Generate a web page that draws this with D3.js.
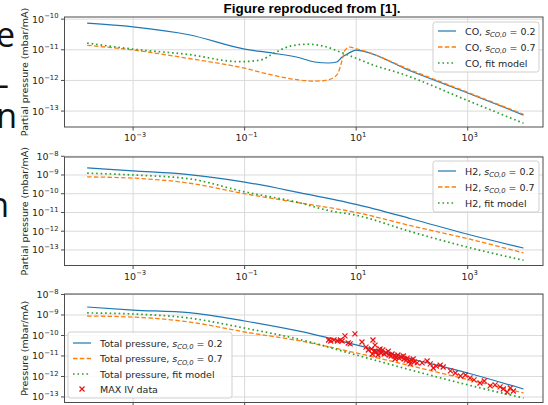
<!DOCTYPE html>
<meta charset="utf-8">
<script src="https://d3js.org/d3.v7.min.js"></script>
<style>
body { margin: 0; background: white; }
svg { display: block; font-family: "DejaVu Sans", sans-serif; }
.grid line { stroke: #dadada; stroke-width: 1; }
.frame { fill: none; stroke: #4d4d4d; stroke-width: 1; }
.tick { stroke: #4d4d4d; stroke-width: 1; }
.ticklabel { fill: #262626; font-size: 9.5px; }
.ylabel { fill: #262626; font-size: 9.5px; }
.legend rect { fill: white; fill-opacity: 0.85; stroke: #cfcfcf; }
.legend text { fill: #262626; font-size: 9.5px; }
.slide { font-family: "Open Sans", sans-serif; font-size: 34px; fill: #111; }
</style>
<body>
<svg id="chart" width="548" height="405"></svg>
<script>
// tick values
const xTicks = [1e-3, 1e-1, 1e1, 1e3];
const yTicksCO = [1e-10, 1e-11, 1e-12, 1e-13];
const yTicksH2 = [1e-8, 1e-9, 1e-10, 1e-11, 1e-12, 1e-13];
const yTicksTot = [1e-8, 1e-9, 1e-10, 1e-11, 1e-12, 1e-13];

// CO partial pressure [time, mbar/mA]
const coS02 = [[1.5e-4, 7.4e-11], [1e-3, 5.6e-11], [1e-2, 3.1e-11], [0.1, 1.05e-11], [0.32, 7.8e-12],
  [1, 5.4e-12], [1.8, 4.0e-12], [3.2, 3.7e-12], [4.5, 4.0e-12], [5.6, 5.8e-12], [7.4, 7.8e-12],
  [10, 9.8e-12], [12.6, 9.2e-12], [100, 1.95e-12], [1000, 3.9e-13], [1e4, 7.4e-14]];
const coS07 = [[1.5e-4, 1.4e-11], [1e-3, 9.8e-12], [1e-2, 5.2e-12], [0.1, 2.5e-12], [0.32, 1.48e-12],
  [1, 1.02e-12], [1.8, 9.5e-13], [2.8, 1.0e-12], [4.0, 1.26e-12], [4.8, 1.86e-12], [5.6, 4.6e-12],
  [6.3, 9.8e-12], [7.8, 1.23e-11], [10, 1.07e-11], [12.6, 9.6e-12], [100, 2.1e-12], [1000, 4.1e-13], [1e4, 7.8e-14]];
const coFit = [[1.5e-4, 1.66e-11], [1e-3, 1.05e-11], [1e-2, 7.0e-12], [0.08, 4.1e-12], [0.19, 4.6e-12],
  [0.33, 7.6e-12], [0.66, 1.32e-11], [1.3, 1.52e-11], [2.6, 1.32e-11], [5.1, 8.5e-12], [10, 5.3e-12],
  [20, 3.2e-12], [62, 1.7e-12], [1000, 2.2e-13], [1e4, 4.0e-14]];

// H2 partial pressure
const h2S02 = [[1.5e-4, 2.4e-9], [1e-3, 1.66e-9], [1e-2, 1.05e-9], [0.1, 4.2e-10], [1, 1.12e-10],
  [10, 2.7e-11], [100, 4.5e-12], [1000, 6.9e-13], [1e4, 1.26e-13]];
const h2S07 = [[1.5e-4, 7.9e-10], [1e-3, 6.8e-10], [1e-2, 3.7e-10], [0.1, 1.0e-10], [1, 3.2e-11],
  [10, 1.0e-11], [100, 1.9e-12], [1000, 4.0e-13], [1e4, 6.9e-14]];
const h2Fit = [[1.5e-4, 1.26e-9], [1e-3, 1.0e-9], [1e-2, 6.3e-10], [0.1, 1.26e-10], [1, 3.2e-11],
  [3.2, 1.26e-11], [10, 7.1e-12], [100, 9.1e-13], [1000, 1.4e-13], [1e4, 2.8e-14]];

// total pressure
const totS02 = [[1.5e-4, 2.45e-9], [1e-3, 1.74e-9], [1e-2, 1.29e-9], [0.1, 5.1e-10], [1, 1.58e-10],
  [10, 3.5e-11], [100, 7.1e-12], [1000, 1.48e-12], [1e4, 2.45e-13]];
const totS07 = [[1.5e-4, 8.9e-10], [1e-3, 7.9e-10], [1e-2, 4.6e-10], [0.1, 1.48e-10], [1, 5.4e-11],
  [10, 1.4e-11], [100, 3.2e-12], [1000, 7.1e-13], [1e4, 1.58e-13]];
const totFit = [[1.5e-4, 1.26e-9], [1e-3, 1.12e-9], [1e-2, 7.1e-10], [0.1, 2.3e-10], [1, 6.3e-11],
  [10, 1.12e-11], [100, 2.0e-12], [1000, 3.9e-13], [1e4, 8.9e-14]];

// MAX IV measured points
const maxIvX = [3.2, 3.5, 4.0, 4.6, 5.2, 5.6, 6.3, 9.5, 7.2, 7.8, 12.7, 15, 20, 21.8, 16.5, 18.8, 21, 22.7,
  25.8, 28, 31.8, 34.5, 39, 42.3, 48, 52, 59, 64, 72.5, 79, 89, 97, 110, 124, 19.5, 26.7, 37.5, 50, 70, 93,
  30, 44, 56, 82, 105, 24.5, 152, 187, 213, 241, 272, 321, 363, 490, 600, 740, 910, 1100, 1300, 1660,
  1980, 2520, 3100, 3800, 4350, 5100, 5800, 6600];
const maxIvY = [6.0e-11, 5.4e-11, 6.0e-11, 5.4e-11, 6.0e-11, 5.4e-11, 9.5e-11, 1.2e-10, 4.3e-11, 3.9e-11,
  4.8e-11, 2.7e-11, 6.0e-11, 3.4e-11, 1.95e-11, 2.2e-11, 1.7e-11, 1.57e-11, 1.7e-11, 1.4e-11, 1.25e-11,
  1.4e-11, 1.12e-11, 1.0e-11, 1.0e-11, 8.9e-12, 7.9e-12, 8.9e-12, 7.1e-12, 6.3e-12, 5.7e-12, 6.3e-12,
  5.1e-12, 4.6e-12, 1.25e-11, 2.2e-11, 1.7e-11, 7.1e-12, 1.0e-11, 4.1e-12, 2.0e-11, 1.25e-11, 1.12e-11,
  7.9e-12, 7.1e-12, 1.12e-11, 4.6e-12, 5.7e-12, 4.1e-12, 2.6e-12, 3.2e-12, 3.6e-12, 2.9e-12, 1.86e-12,
  1.48e-12, 1.05e-12, 1.18e-12, 8.5e-13, 6.8e-13, 4.8e-13, 6.0e-13, 3.5e-13, 3.9e-13, 3.1e-13, 2.45e-13,
  1.74e-13, 2.75e-13, 1.95e-13];

const colors = { s02: "#1f77b4", s07: "#ff7f0e", fit: "#2ca02c", data: "#ee1111" };

const svg = d3.select("#chart");

// leftover slide text cut off on the left
[["e", 15, 47], ["-", 9, 96], ["on", 17, 128], ["n", 9, 217]].forEach(function(t) {
  svg.append("text").attr("class", "slide").attr("text-anchor", "end")
    .attr("x", t[1]).attr("y", t[2]).text(t[0]);
});

svg.append("text")
  .attr("x", 312).attr("y", 12.5)
  .attr("text-anchor", "middle")
  .style("font-family", "'Liberation Sans', Arial, sans-serif")
  .style("font-weight", "bold").style("font-size", "13.5px")
  .text("Figure reproduced from [1].");

const x = d3.scaleLog().domain([10 ** -4.23, 10 ** 4.35]).range([64.5, 543]);

const panels = [
  { top: 17, bottom: 127, yDom: [-13.52, -9.93], yTicks: yTicksCO, ylabel: "Partial pressure (mbar/mA)",
    lines: [coS02, coS07, coFit], name: "CO", xLabels: true,
    legend: { x: 433, y: 22, w: 106, h: 50, rows: [31, 47, 63] } },
  { top: 157, bottom: 265.5, yDom: [-13.83, -8.04], yTicks: yTicksH2, ylabel: "Partial pressure (mbar/mA)",
    lines: [h2S02, h2S07, h2Fit], name: "H2", xLabels: true,
    legend: { x: 433, y: 161, w: 106, h: 51, rows: [171, 187, 203] } },
  { top: 294, bottom: 402.5, yDom: [-13.27, -7.976], yTicks: yTicksTot, ylabel: "Pressure (mbar/mA)",
    lines: [totS02, totS07, totFit], name: "Total pressure", xLabels: false, data: true,
    legend: { x: 68, y: 332, w: 164, h: 66, rows: [343, 358.5, 374, 389] } }
];

function sci(sel, v) {
  const e = Math.round(Math.log10(v));
  sel.append("tspan").text("10");
  sel.append("tspan").attr("dy", -4.2).style("font-size", "6.8px")
    .text((e < 0 ? "\u2212" : "") + Math.abs(e));
}

function mathLabel(sel, prefix, s) {
  sel.append("tspan").text(prefix + ", ");
  sel.append("tspan").style("font-style", "italic").text("s");
  sel.append("tspan").attr("dy", 2.5).style("font-style", "italic").style("font-size", "6.8px").text("CO,0");
  sel.append("tspan").attr("dy", -2.5).text(" = " + s);
}

const xMark = "M-2.5,-2.5L2.5,2.5M-2.5,2.5L2.5,-2.5";

panels.forEach(function(p) {
  const y = d3.scaleLog().domain([10 ** p.yDom[0], 10 ** p.yDom[1]]).range([p.bottom, p.top]);
  const g = svg.append("g");
  const grid = g.append("g").attr("class", "grid");

  grid.selectAll(".gx").data(xTicks).enter().append("line")
    .attr("x1", d => x(d)).attr("x2", d => x(d)).attr("y1", p.top).attr("y2", p.bottom);
  grid.selectAll(".gy").data(p.yTicks).enter().append("line")
    .attr("x1", x.range()[0]).attr("x2", x.range()[1]).attr("y1", d => y(d)).attr("y2", d => y(d));

  // ticks and labels
  g.selectAll(".ty").data(p.yTicks).enter().append("line").attr("class", "tick")
    .attr("x1", x.range()[0] - 3.5).attr("x2", x.range()[0]).attr("y1", d => y(d)).attr("y2", d => y(d));
  g.selectAll(".ly").data(p.yTicks).enter().append("text").attr("class", "ticklabel")
    .attr("text-anchor", "end").attr("x", x.range()[0] - 6).attr("y", d => y(d) + 3.5)
    .each(function(d) { sci(d3.select(this), d); });

  g.selectAll(".tx").data(xTicks).enter().append("line").attr("class", "tick")
    .attr("x1", d => x(d)).attr("x2", d => x(d)).attr("y1", p.bottom).attr("y2", p.bottom + 3.5);
  if (p.xLabels) {
    g.selectAll(".lx").data(xTicks).enter().append("text").attr("class", "ticklabel")
      .attr("text-anchor", "middle").attr("x", d => x(d) + 2).attr("y", p.bottom + 14)
      .each(function(d) { sci(d3.select(this), d); });
  }

  g.append("text").attr("class", "ylabel").attr("text-anchor", "middle")
    .attr("transform", "translate(27.5," + (p.top + p.bottom) / 2 + ") rotate(-90)")
    .text(p.ylabel);

  const line = d3.line().x(d => x(d[0])).y(d => y(d[1])).curve(d3.curveMonotoneX);
  const styles = [
    { c: colors.s02, w: 1.2, dash: null },
    { c: colors.s07, w: 1.3, dash: "4.5,2.3" },
    { c: colors.fit, w: 1.7, dash: "1.6,2.9" }
  ];
  p.lines.forEach(function(s, i) {
    g.append("path").datum(s).attr("fill", "none")
      .attr("stroke", styles[i].c).attr("stroke-width", styles[i].w)
      .attr("stroke-dasharray", styles[i].dash).attr("d", line);
  });

  if (p.data) {
    g.selectAll(".pt").data(maxIvX).enter().append("path")
      .attr("transform", (d, i) => "translate(" + x(d) + "," + y(maxIvY[i]) + ")")
      .attr("d", xMark)
      .attr("stroke", colors.data).attr("stroke-width", 1.2);
  }

  g.append("rect").attr("class", "frame")
    .attr("x", x.range()[0]).attr("y", p.top)
    .attr("width", x.range()[1] - x.range()[0]).attr("height", p.bottom - p.top);

  // legend
  const L = p.legend;
  const lg = g.append("g").attr("class", "legend");
  lg.append("rect").attr("x", L.x).attr("y", L.y).attr("width", L.w).attr("height", L.h).attr("rx", 2.5);
  const labels = [["s", "0.2"], ["s", "0.7"], ["fit"]];
  labels.forEach(function(lb, i) {
    const ry = L.rows[i];
    lg.append("line").attr("x1", L.x + 5).attr("x2", L.x + 23).attr("y1", ry).attr("y2", ry)
      .attr("stroke", styles[i].c).attr("stroke-width", styles[i].w)
      .attr("stroke-dasharray", styles[i].dash);
    const t = lg.append("text").attr("x", L.x + 32).attr("y", ry + 3.5);
    if (lb[0] === "s") mathLabel(t, p.name, lb[1]);
    else t.text(p.name + ", fit model");
  });
  if (p.data) {
    const ry = L.rows[3];
    lg.append("path").attr("transform", "translate(" + (L.x + 14) + "," + ry + ")")
      .attr("d", xMark)
      .attr("stroke", colors.data).attr("stroke-width", 1.2);
    lg.append("text").attr("x", L.x + 32).attr("y", ry + 3.5).text("MAX IV data");
  }
});
</script>
</body>
